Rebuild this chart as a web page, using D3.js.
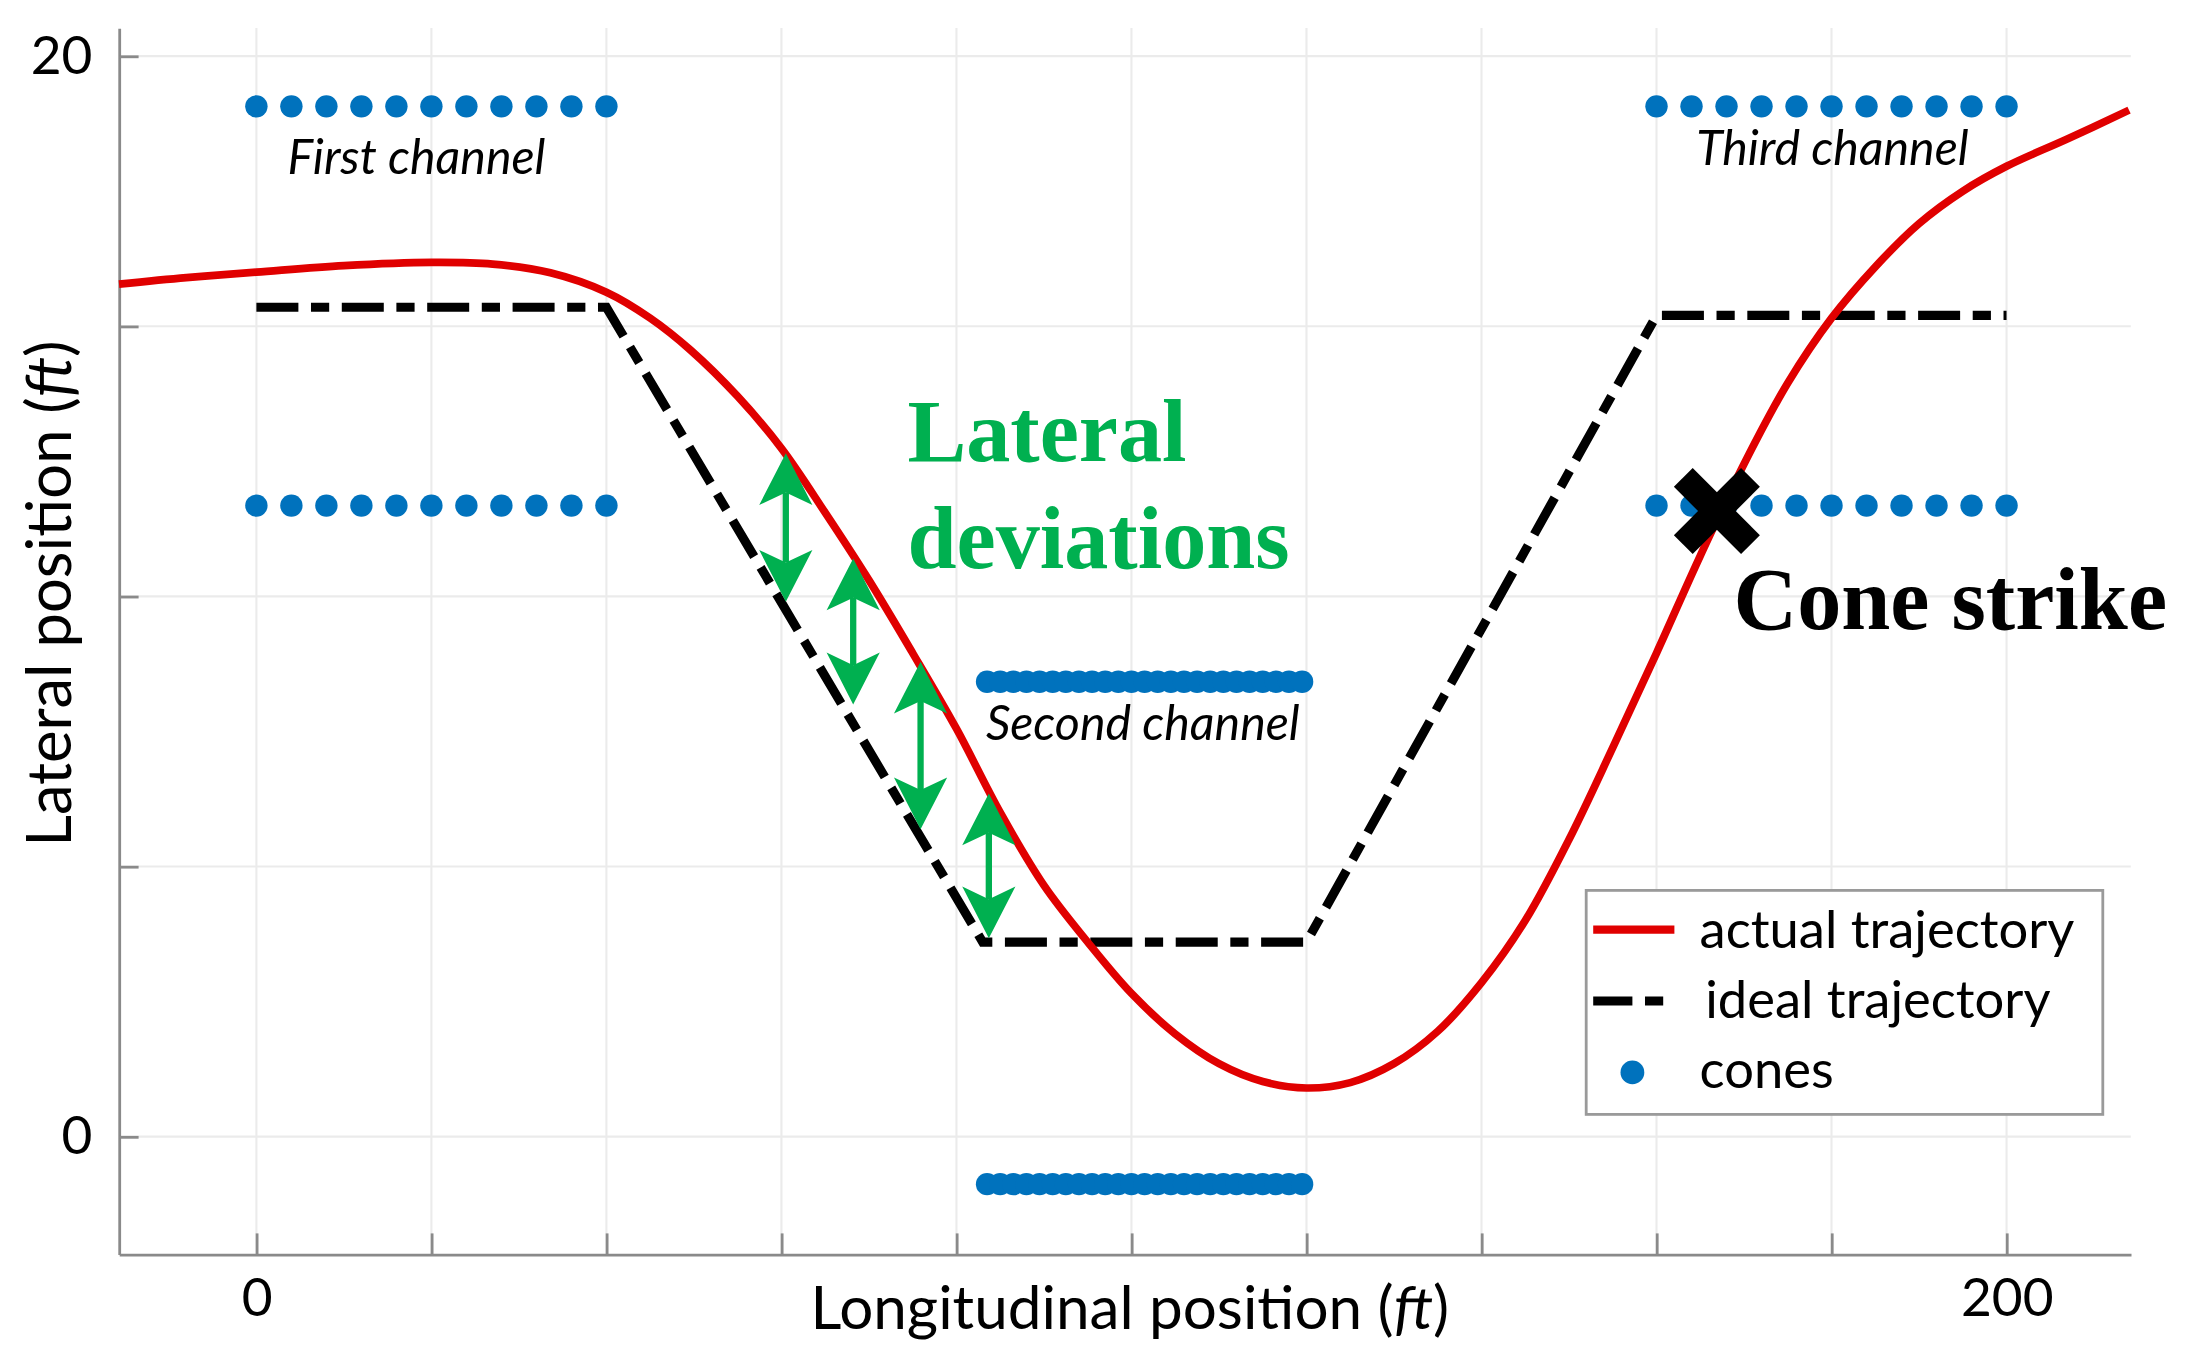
<!DOCTYPE html>
<html lang="en">
<head>
<meta charset="UTF-8">
<title>Lateral deviations and cone strike</title>
<script src="https://d3js.org/d3.v7.min.js"></script>
<style>
  body { margin: 0; background: #fff; }
  svg { display: block; }
  text { font-family: Lato, "Noto Sans", sans-serif; fill: #000; }
  .grid line { stroke: #ebebeb; stroke-width: 1.5; }
  .axis path, .axis line { stroke: #8a8a8a; stroke-width: 2; }
  .serif { font-family: "Liberation Serif", "DejaVu Serif", serif; font-weight: bold; }
</style>
</head>
<body>
<div id="chart"></div>
<script>
// actual trajectory (ft)
const actualX = [-15.7, -8, 0, 10, 20, 27, 33.6, 40, 45, 49.6, 55, 60, 65, 70, 75, 80, 85, 90, 95,
                 100, 105, 110, 115, 120, 125, 130, 135, 140, 145, 150, 155, 160, 165, 170, 175,
                 180, 185, 190, 195, 200, 207, 214];
const actualY = [15.78, 15.9, 16.0, 16.12, 16.18, 16.15, 15.99, 15.63, 15.15, 14.56, 13.7, 12.74, 11.55, 10.3, 8.95, 7.55, 6.0, 4.65, 3.6,
                 2.65, 1.9, 1.35, 1.02, 0.9, 1.0, 1.35, 1.95, 2.85, 4.0, 5.5, 7.2, 8.95, 10.75, 12.45, 13.95,
                 15.15, 16.1, 16.9, 17.5, 17.96, 18.47, 19.0];

// ideal trajectory
const idealX = [0, 40, 83, 120, 160, 200];
const idealY = [15.35, 15.35, 3.6, 3.6, 15.2, 15.2];

// cones
const cone1X = [0, 4, 8, 12, 16, 20, 24, 28, 32, 36, 40];
const cone2X = [83.5, 85, 86.5, 88, 89.5, 91, 92.5, 94, 95.5, 97, 98.5, 100, 101.5, 103, 104.5, 106,
                107.5, 109, 110.5, 112, 113.5, 115, 116.5, 118, 119.5];
const cone3X = [160, 164, 168, 172, 176, 180, 184, 188, 192, 196, 200];
const outerRowsY = [19.07, 11.68];
const middleRowsY = [8.42, -0.88];

// lateral deviation arrows
const arrowX = [60.5, 68.2, 75.9, 83.7];
const arrowTop = [12.65, 10.7, 8.79, 6.35];
const arrowBottom = [9.9, 8.0, 5.69, 3.67];

// cone strike
const strikeX = 166.9, strikeY = 11.58;

// annotations
const channelNames = ['First channel', 'Second channel', 'Third channel'];
const channelLabelX = [18.3, 101.3, 180.1];
const channelLabelY = [17.82, 7.34, 17.98];

// axes
const xTicks = [0, 20, 40, 60, 80, 100, 120, 140, 160, 180, 200];
const yTicks = [0, 5, 10, 15, 20];
const xLabelled = [0, 200];
const yLabelled = [0, 20];

const W = 1565, H = 975;
const svg = d3.select('#chart').append('svg')
  .attr('width', 2191).attr('height', 1365)
  .attr('viewBox', `0 0 ${W} ${H}`)
  .style('overflow', 'visible');

const x = d3.scaleLinear().domain([-15.7, 214.2]).range([85, 1522]);
const y = d3.scaleLinear().domain([-2.18, 20.52]).range([896, 20]);

// grid
const grid = svg.append('g').attr('class', 'grid');
grid.selectAll('.gx').data(xTicks).enter().append('line')
  .attr('x1', d => x(d)).attr('x2', d => x(d))
  .attr('y1', y.range()[1]).attr('y2', y.range()[0]);
grid.selectAll('.gy').data(yTicks).enter().append('line')
  .attr('y1', d => y(d)).attr('y2', d => y(d))
  .attr('x1', x.range()[0]).attr('x2', x.range()[1]);

// axes
svg.append('g').attr('class', 'axis')
  .attr('transform', `translate(0,${y.range()[0]})`)
  .call(d3.axisBottom(x).tickValues(xTicks).tickSizeInner(-15).tickSizeOuter(0).tickPadding(17)
    .tickFormat(d => xLabelled.includes(d) ? d : ''));
svg.append('g').attr('class', 'axis')
  .attr('transform', `translate(${x.range()[0]},0)`)
  .call(d3.axisLeft(y).tickValues(yTicks).tickSizeInner(-14).tickSizeOuter(0).tickPadding(19)
    .tickFormat(d => yLabelled.includes(d) ? d : ''));
svg.selectAll('.axis text').style('font-size', '38px').style('font-family', 'Lato, sans-serif').attr('fill', '#000');

// axis titles
const xt = svg.append('text').attr('x', 807).attr('y', 949).attr('text-anchor', 'middle').style('font-size', '43px');
xt.append('tspan').text('Longitudinal position (');
xt.append('tspan').style('font-style', 'italic').text('ft');
xt.append('tspan').text(')');
const yt = svg.append('text').attr('transform', 'translate(51,424) rotate(-90)').attr('text-anchor', 'middle').style('font-size', '44px');
yt.append('tspan').text('Lateral position (');
yt.append('tspan').style('font-style', 'italic').text('ft');
yt.append('tspan').text(')');

// cones
const coneColor = '#0072bd';
const cones = [];
[cone1X, cone3X].forEach(xs => outerRowsY.forEach(r => xs.forEach(c => cones.push([c, r]))));
middleRowsY.forEach(r => cone2X.forEach(c => cones.push([c, r])));
svg.append('g').selectAll('circle').data(cones).enter().append('circle')
  .attr('cx', d => x(d[0])).attr('cy', d => y(d[1])).attr('r', 8).attr('fill', coneColor);

// channel names
svg.append('g').selectAll('text').data(channelNames).enter().append('text')
  .attr('x', (d, i) => x(channelLabelX[i])).attr('y', (d, i) => y(channelLabelY[i]))
  .attr('text-anchor', 'middle').style('font-style', 'italic').style('font-size', '34.5px')
  .text(d => d);

// ideal trajectory
const line = d3.line().x(d => x(d[0])).y(d => y(d[1]));
svg.append('path').datum(idealX.map((v, i) => [v, idealY[i]]))
  .attr('d', line).attr('fill', 'none').attr('stroke', '#000').attr('stroke-width', 6.5)
  .attr('stroke-dasharray', '30 9 13 9');

// actual trajectory
svg.append('path').datum(actualX.map((v, i) => [v, actualY[i]]))
  .attr('d', line.curve(d3.curveCatmullRom.alpha(0.5))).attr('fill', 'none')
  .attr('stroke', '#e00000').attr('stroke-width', 5.5);

// deviation arrows
const green = '#00b050';
const arrows = svg.append('g');
const headLen = 37, headHalf = 19, notch = 28;
arrowX.forEach((ax, i) => {
  const px = x(ax), pt = y(arrowTop[i]), pb = y(arrowBottom[i]);
  arrows.append('line').attr('x1', px).attr('x2', px).attr('y1', pt + notch).attr('y2', pb - notch)
    .attr('stroke', green).attr('stroke-width', 4.5);
  arrows.append('path')
    .attr('d', `M${px},${pt} L${px + headHalf},${pt + headLen} L${px},${pt + notch} L${px - headHalf},${pt + headLen} Z`)
    .attr('fill', green);
  arrows.append('path')
    .attr('d', `M${px},${pb} L${px + headHalf},${pb - headLen} L${px},${pb - notch} L${px - headHalf},${pb - headLen} Z`)
    .attr('fill', green);
});

svg.append('text').attr('class', 'serif').attr('x', x(74.4)).attr('y', y(12.51))
  .style('font-size', '63px').style('fill', green).text('Lateral');
svg.append('text').attr('class', 'serif').attr('x', x(74.4)).attr('y', y(10.52))
  .style('font-size', '63px').style('fill', green).text('deviations');

// cone strike marker
const sx = x(strikeX), sy = y(strikeY), arm = 24;
const mark = svg.append('g').attr('stroke', '#000').attr('stroke-width', 19);
mark.append('line').attr('x1', sx - arm).attr('y1', sy - arm).attr('x2', sx + arm).attr('y2', sy + arm);
mark.append('line').attr('x1', sx - arm).attr('y1', sy + arm).attr('x2', sx + arm).attr('y2', sy - arm);
svg.append('text').attr('class', 'serif').attr('x', x(168.8)).attr('y', y(9.4))
  .style('font-size', '63px').text('Cone strike');

// legend
const lg = svg.append('g').attr('transform', 'translate(1133,636)');
lg.append('rect').attr('width', 369).attr('height', 160).attr('fill', '#fff')
  .attr('stroke', '#9a9a9a').attr('stroke-width', 2);
lg.append('line').attr('x1', 5).attr('x2', 63).attr('y1', 28).attr('y2', 28)
  .attr('stroke', '#e00000').attr('stroke-width', 6);
lg.append('line').attr('x1', 5).attr('x2', 55).attr('y1', 79).attr('y2', 79)
  .attr('stroke', '#000').attr('stroke-width', 6.5).attr('stroke-dasharray', '28 9 13 9');
lg.append('circle').attr('cx', 33).attr('cy', 130).attr('r', 8.5).attr('fill', coneColor);
const legendNames = ['actual trajectory', 'ideal trajectory', 'cones'];
const legendTextX = [81, 85, 81];
lg.selectAll('.lt').data(legendNames).enter().append('text')
  .attr('x', (d, i) => legendTextX[i]).attr('y', (d, i) => 41 + i * 50)
  .style('font-size', '37.5px').text(d => d);
</script>
</body>
</html>
